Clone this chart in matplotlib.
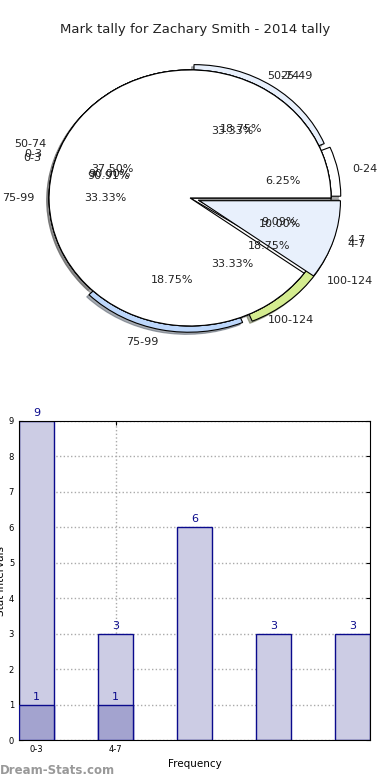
import matplotlib
matplotlib.use("Agg")
import matplotlib.pyplot as plt

# --- data -------------------------------------------------------------------
tally_labels = ["0-24", "25-49", "50-74", "75-99", "100-124"]
tally_counts = [1, 3, 6, 3, 3]

band_labels = ["50-74", "75-99", "100-124"]
band_counts = [1, 1, 1]

freq_labels = ["0-3", "4-7"]
freq_counts_a = [10, 1]
freq_counts_b = [9, 1]

bar_light = [9, 3, 6, 3, 3]
bar_dark = [1, 1]
bar_ticks = ["0-3", "4-7"]

pie_colors = ["white", "#e8f0fc", "white", "#bdd7fb", "#d4ec8f"]
navy = "#0a0a8c"

fig = plt.figure(figsize=(3.9, 7.8), dpi=100)

# ---- pie (several pies layered, elliptical like the original) ----
ax = fig.add_axes([0, 1 - 360 / 780, 1, 320 / 780])
ax.axis("off")
txt = dict(fontsize=8, color="#222222")
wp = dict(edgecolor="black", linewidth=0.8)
shd = dict(ox=-0.012, oy=-0.012, shade=0.6)

ax.pie(tally_counts, labels=tally_labels, autopct="%.2f%%", colors=pie_colors,
       explode=[0.07, 0.05, 0, 0.05, 0.07], shadow=shd, wedgeprops=wp,
       textprops=txt, normalize=True)
ax.pie(band_counts, labels=band_labels, autopct="%.2f%%", colors=pie_colors,
       wedgeprops=wp, textprops=txt, normalize=True)
ax.pie(freq_counts_a, labels=freq_labels, autopct="%.2f%%", colors=["white", "#d4ec8f"],
       explode=[0, 0.06], wedgeprops=wp, textprops=txt, normalize=True)
ax.pie(freq_counts_b, labels=freq_labels, autopct="%.2f%%", colors=pie_colors[:2],
       explode=[0, 0.07], shadow=shd, wedgeprops=wp, textprops=txt, normalize=True)
ax.set_xlim(-1.348, 1.418)
ax.set_ylim(-1.266, 1.234)
ax.set_aspect("auto")

fig.text(0.5, 1 - 30 / 780, "Mark tally for Zachary Smith - 2014 tally",
         ha="center", va="center", fontsize=9.5, color="#222222")

# ---- bars ----
bx = fig.add_axes([19 / 390, 40 / 780, 351 / 390, 319 / 780])
w = 0.45
xs = list(range(len(bar_light)))
bx.bar(xs, bar_light, w, color="#ccccE4", edgecolor=navy, linewidth=1, zorder=2)
bx.bar(xs[:len(bar_dark)], bar_dark, w, color="#a3a3cf", edgecolor=navy,
       linewidth=1, zorder=3)
for x, v in zip(xs, bar_light):
    bx.text(x, v + 0.08, str(v), ha="center", va="bottom", fontsize=8, color=navy)
for x, v in zip(xs, bar_dark):
    bx.text(x, v + 0.08, str(v), ha="center", va="bottom", fontsize=8, color=navy)

bx.set_xlim(-w / 2, len(bar_light) - 1 + w / 2)
bx.set_ylim(0, 9)
bx.set_yticks(range(10))
bx.set_xticks(xs[:len(bar_ticks)])
bx.set_xticklabels(bar_ticks)
bx.tick_params(labelsize=6, direction="in", top=True, right=True, length=3)
bx.grid(True, ls=":", color="#aaaaaa", lw=1, zorder=0)
bx.set_axisbelow(True)
bx.set_xlabel("Frequency", fontsize=7.5, labelpad=4)
bx.set_ylabel("Stat Intervals", fontsize=7.5)
bx.yaxis.set_label_coords(-0.038, 0.5)

fig.text(0.0, 1 - 771 / 780, "Dream-Stats.com", ha="left", va="center",
         fontsize=8.5, color="#999999", fontweight="bold")

fig.savefig("out.png", dpi=100)
